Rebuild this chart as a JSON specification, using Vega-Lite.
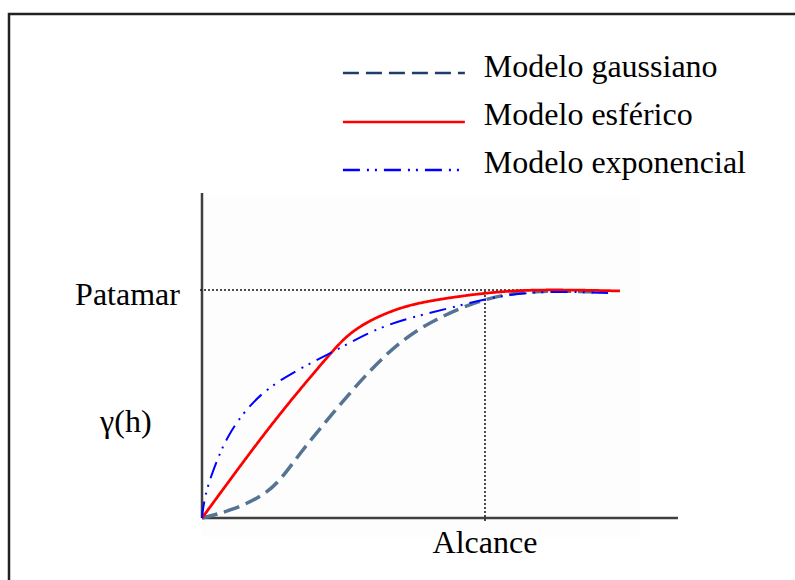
{
  "$schema": "https://vega.github.io/schema/vega-lite/v6.json",
  "autosize": "none",
  "padding": {"left": 9, "top": 14, "right": 0, "bottom": 0},
  "width": 800,
  "height": 580,
  "background": "white",
  "config": {"view": {"stroke": "#222222", "strokeWidth": 2.5}},
  "datasets": {
    "curvas": [
      {"modelo": "gaussiano", "h": 0, "gamma": 0},
      {"modelo": "gaussiano", "h": 0.11, "gamma": 0.035},
      {"modelo": "gaussiano", "h": 0.22, "gamma": 0.1},
      {"modelo": "gaussiano", "h": 0.28, "gamma": 0.17},
      {"modelo": "gaussiano", "h": 0.346, "gamma": 0.285},
      {"modelo": "gaussiano", "h": 0.463, "gamma": 0.461},
      {"modelo": "gaussiano", "h": 0.583, "gamma": 0.636},
      {"modelo": "gaussiano", "h": 0.7, "gamma": 0.776},
      {"modelo": "gaussiano", "h": 0.816, "gamma": 0.868},
      {"modelo": "gaussiano", "h": 0.993, "gamma": 0.965},
      {"modelo": "gaussiano", "h": 1.17, "gamma": 1.0},
      {"modelo": "gaussiano", "h": 1.406, "gamma": 0.991},
      {"modelo": "esferico", "h": 0, "gamma": 0},
      {"modelo": "esferico", "h": 0.115, "gamma": 0.195},
      {"modelo": "esferico", "h": 0.23, "gamma": 0.386},
      {"modelo": "esferico", "h": 0.346, "gamma": 0.565},
      {"modelo": "esferico", "h": 0.463, "gamma": 0.735},
      {"modelo": "esferico", "h": 0.512, "gamma": 0.8},
      {"modelo": "esferico", "h": 0.583, "gamma": 0.862},
      {"modelo": "esferico", "h": 0.7, "gamma": 0.925},
      {"modelo": "esferico", "h": 0.816, "gamma": 0.956},
      {"modelo": "esferico", "h": 0.993, "gamma": 0.987},
      {"modelo": "esferico", "h": 1.17, "gamma": 1.004},
      {"modelo": "esferico", "h": 1.477, "gamma": 0.996},
      {"modelo": "exponencial", "h": 0, "gamma": 0},
      {"modelo": "exponencial", "h": 0.004, "gamma": 0.048},
      {"modelo": "exponencial", "h": 0.018, "gamma": 0.136},
      {"modelo": "exponencial", "h": 0.053, "gamma": 0.254},
      {"modelo": "exponencial", "h": 0.088, "gamma": 0.355},
      {"modelo": "exponencial", "h": 0.159, "gamma": 0.487},
      {"modelo": "exponencial", "h": 0.265, "gamma": 0.605},
      {"modelo": "exponencial", "h": 0.463, "gamma": 0.728},
      {"modelo": "exponencial", "h": 0.583, "gamma": 0.811},
      {"modelo": "exponencial", "h": 0.7, "gamma": 0.868},
      {"modelo": "exponencial", "h": 0.876, "gamma": 0.921},
      {"modelo": "exponencial", "h": 1.053, "gamma": 0.978},
      {"modelo": "exponencial", "h": 1.23, "gamma": 0.996},
      {"modelo": "exponencial", "h": 1.435, "gamma": 0.987}
    ],
    "legenda": [
      {"modelo": "gaussiano", "nome": "Modelo gaussiano", "x0": 0.498, "x1": 0.929, "xt": 0.996, "yl": 1.952, "yt": 1.934},
      {"modelo": "esferico", "nome": "Modelo esférico", "x0": 0.498, "x1": 0.929, "xt": 0.996, "yl": 1.737, "yt": 1.724},
      {"modelo": "exponencial", "nome": "Modelo exponencial", "x0": 0.498, "x1": 0.915, "xt": 0.996, "yl": 1.526, "yt": 1.513}
    ],
    "eixos": [
      {"x0": 0, "x1": 0, "y0": 0, "y1": 1.425},
      {"x0": 0, "x1": 1.682, "y0": 0, "y1": 0}
    ],
    "guias": [
      {"x0": -0.007, "x1": 1.2, "y0": 1.0, "y1": 1.0},
      {"x0": 1.0, "x1": 1.0, "y0": -0.013, "y1": 1.0}
    ],
    "rotulos": [
      {"texto": "Patamar", "x": -0.078, "y": 0.934, "alinh": "right"},
      {"texto": "γ(h)", "x": -0.36, "y": 0.377, "alinh": "left"},
      {"texto": "Alcance", "x": 1.0, "y": -0.154, "alinh": "center"}
    ],
    "fundo": [
      {"x0": 0, "x1": 1.548, "y0": -0.083, "y1": 1.417}
    ]
  },
  "resolve": {"scale": {"color": "independent", "strokeWidth": "independent"}},
  "layer": [
    {
      "data": {"name": "fundo"},
      "mark": {"type": "rect", "color": "#fdfdfe"},
      "encoding": {
        "x": {"field": "x0", "type": "quantitative", "scale": {"domain": [-0.682, 2.145], "nice": false, "zero": false}, "axis": null},
        "x2": {"field": "x1"},
        "y": {"field": "y0", "type": "quantitative", "scale": {"domain": [-0.333, 2.2105], "nice": false, "zero": false}, "axis": null},
        "y2": {"field": "y1"}
      }
    },
    {
      "data": {"name": "eixos"},
      "mark": {"type": "rule", "color": "#404040", "strokeWidth": 2.5},
      "encoding": {
        "x": {"field": "x0", "type": "quantitative"},
        "x2": {"field": "x1"},
        "y": {"field": "y0", "type": "quantitative"},
        "y2": {"field": "y1"}
      }
    },
    {
      "data": {"name": "guias"},
      "mark": {"type": "rule", "color": "#111111", "strokeWidth": 1.5, "strokeDash": [2, 2]},
      "encoding": {
        "x": {"field": "x0", "type": "quantitative"},
        "x2": {"field": "x1"},
        "y": {"field": "y0", "type": "quantitative"},
        "y2": {"field": "y1"}
      }
    },
    {
      "data": {"name": "curvas"},
      "mark": {"type": "line", "interpolate": "basis"},
      "encoding": {
        "x": {"field": "h", "type": "quantitative"},
        "y": {"field": "gamma", "type": "quantitative"},
        "color": {"field": "modelo", "type": "nominal", "legend": null,
          "scale": {"domain": ["gaussiano", "esferico", "exponencial"], "range": ["#557493", "#ff0000", "#0000ff"]}},
        "strokeDash": {"field": "modelo", "type": "nominal", "legend": null,
          "scale": {"domain": ["gaussiano", "esferico", "exponencial"], "range": [[16, 7], [1, 0], [17, 7, 2, 6, 2, 7]]}},
        "strokeWidth": {"field": "modelo", "type": "nominal", "legend": null,
          "scale": {"domain": ["gaussiano", "esferico", "exponencial"], "range": [3.5, 2, 2]}}
      }
    },
    {
      "data": {"name": "legenda"},
      "mark": {"type": "rule"},
      "encoding": {
        "x": {"field": "x0", "type": "quantitative"},
        "x2": {"field": "x1"},
        "y": {"field": "yl", "type": "quantitative"},
        "color": {"field": "modelo", "type": "nominal", "legend": null,
          "scale": {"domain": ["gaussiano", "esferico", "exponencial"], "range": ["#1f3d6b", "#ff0000", "#0000ff"]}},
        "strokeDash": {"field": "modelo", "type": "nominal", "legend": null},
        "strokeWidth": {"field": "modelo", "type": "nominal", "legend": null,
          "scale": {"domain": ["gaussiano", "esferico", "exponencial"], "range": [2.5, 2.5, 2.5]}}
      }
    },
    {
      "data": {"name": "legenda"},
      "mark": {"type": "text", "font": "Liberation Serif", "fontSize": 32, "align": "left", "baseline": "alphabetic", "color": "#000000"},
      "encoding": {
        "x": {"field": "xt", "type": "quantitative"},
        "y": {"field": "yt", "type": "quantitative"},
        "text": {"field": "nome"}
      }
    },
    {
      "data": {"name": "rotulos"},
      "transform": [{"filter": "datum.alinh == 'right'"}],
      "mark": {"type": "text", "font": "Liberation Serif", "fontSize": 32, "align": "right", "baseline": "alphabetic", "color": "#000000"},
      "encoding": {
        "x": {"field": "x", "type": "quantitative"},
        "y": {"field": "y", "type": "quantitative"},
        "text": {"field": "texto"}
      }
    },
    {
      "data": {"name": "rotulos"},
      "transform": [{"filter": "datum.alinh == 'left'"}],
      "mark": {"type": "text", "font": "Liberation Serif", "fontSize": 32, "align": "left", "baseline": "alphabetic", "color": "#000000"},
      "encoding": {
        "x": {"field": "x", "type": "quantitative"},
        "y": {"field": "y", "type": "quantitative"},
        "text": {"field": "texto"}
      }
    },
    {
      "data": {"name": "rotulos"},
      "transform": [{"filter": "datum.alinh == 'center'"}],
      "mark": {"type": "text", "font": "Liberation Serif", "fontSize": 32, "align": "center", "baseline": "alphabetic", "color": "#000000"},
      "encoding": {
        "x": {"field": "x", "type": "quantitative"},
        "y": {"field": "y", "type": "quantitative"},
        "text": {"field": "texto"}
      }
    }
  ]
}
